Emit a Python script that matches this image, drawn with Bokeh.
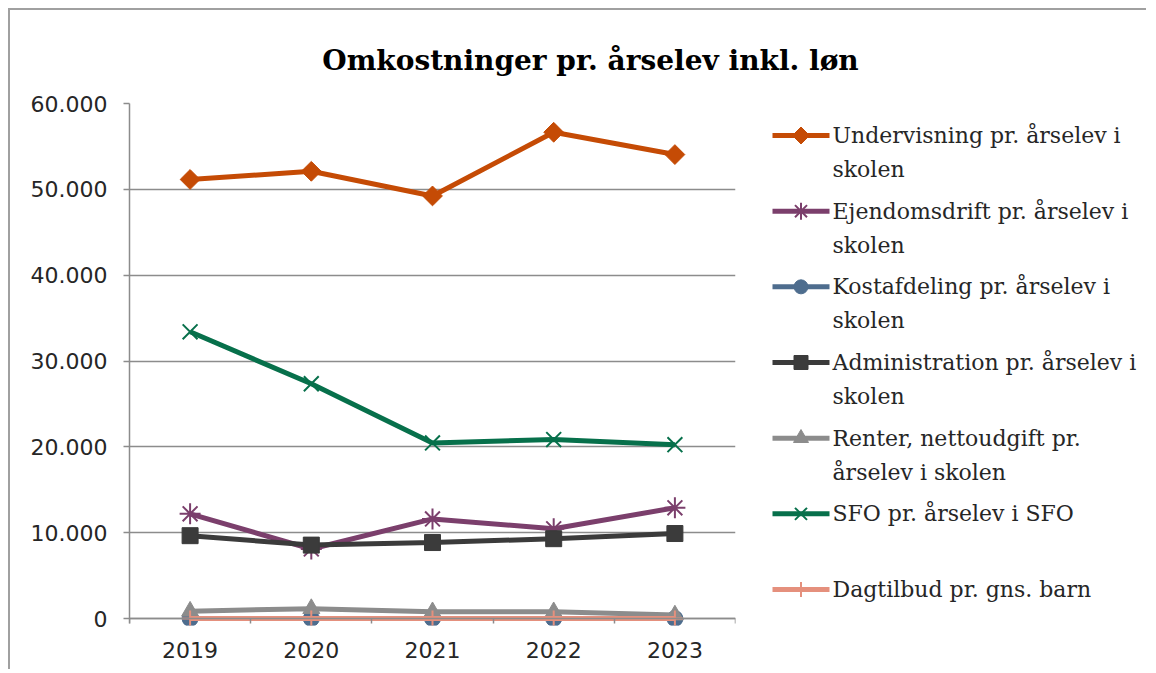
from bokeh.plotting import figure
from bokeh.models import Range1d, FixedTicker, LinearAxis, Grid
from bokeh.layouts import column, row
from bokeh.embed import file_html
from bokeh.resources import INLINE
from bokeh.core.properties import value

# ---------------- data ----------------
years = ["2019", "2020", "2021", "2022", "2023"]
undervisning = [51150, 52100, 49230, 56650, 54050]
ejendomsdrift = [12200, 8100, 11600, 10450, 12900]
kostafdeling = [0, 0, 0, 0, 0]
administration = [9650, 8550, 8850, 9300, 9900]
renter = [850, 1150, 780, 780, 400]
sfo = [33400, 27350, 20450, 20850, 20250]
dagtilbud = [0, 0, 0, 0, 0]

legend_labels = [
    ["Undervisning pr. årselev i", "skolen"],
    ["Ejendomsdrift pr. årselev i", "skolen"],
    ["Kostafdeling pr. årselev i", "skolen"],
    ["Administration pr. årselev i", "skolen"],
    ["Renter, nettoudgift pr.", "årselev i skolen"],
    ["SFO pr. årselev i SFO"],
    ["Dagtilbud pr. gns. barn"],
]
y_ticks = [0, 10000, 20000, 30000, 40000, 50000, 60000]
y_tick_labels = ["0", "10.000", "20.000", "30.000", "40.000", "50.000", "60.000"]
title_text = "Omkostninger pr. årselev inkl. løn"

series = [undervisning, ejendomsdrift, kostafdeling, administration, renter, sfo, dagtilbud]
colors = ["#c54b05", "#7b3f6c", "#4e6d8e", "#3b3b3b", "#8c8c8c", "#07704b", "#e5907d"]
markers = ["square", "asterisk", "circle", "square", "triangle", "x", "cross"]
angles = [0.785398, 0, 0, 0, 0, 0, 0]
sizes = [14, 21, 16, 16, 17, 21, 16]
leg_sizes = [12, 17, 14, 14, 15, 17, 15]
mlw = [1, 2, 1, 1, 1, 2, 2]

AX = "#8c8c8c"
TXT = "#262626"

# ---------------- main plot ----------------
n = len(years)
x_pos = [i + 0.5 for i in range(n)]
bounds = list(range(n + 1))

H = 584
TOP, BOTTOM = 18, 44

p = figure(width=750, height=H, x_range=Range1d(0, n), y_range=Range1d(-815, 60000),
           output_backend="svg", toolbar_location=None,
           x_axis_type=None, y_axis_type=None,
           min_border_left=119, min_border_right=25, min_border_top=TOP, min_border_bottom=BOTTOM)
p.outline_line_color = None
p.background_fill_color = "white"
p.border_fill_color = "white"

y_ticker = FixedTicker(ticks=y_ticks, minor_ticks=[])
yaxis = LinearAxis(ticker=y_ticker, bounds=(-600, 60000),
                   major_label_overrides=dict(zip(y_ticks, y_tick_labels)),
                   axis_line_color=AX, axis_line_width=1.5,
                   major_tick_line_color=AX, major_tick_line_width=1.5,
                   major_tick_out=6, major_tick_in=0,
                   minor_tick_out=0, minor_tick_in=0,
                   major_label_standoff=16,
                   major_label_text_font="DejaVu Sans",
                   major_label_text_font_size="22px",
                   major_label_text_color=TXT)
p.add_layout(yaxis, "left")

# axis line at value 0 with boundary ticks
x_line_ticker = FixedTicker(ticks=[], minor_ticks=bounds)
xaxis_line = LinearAxis(ticker=x_line_ticker, fixed_location=0,
                        axis_line_color=AX, axis_line_width=1.5,
                        major_tick_out=0, major_tick_in=0,
                        minor_tick_line_color=AX, minor_tick_line_width=1.5,
                        minor_tick_out=5, minor_tick_in=0,
                        major_label_text_color=None)
p.add_layout(xaxis_line, "below")

# category labels
x_ticker = FixedTicker(ticks=x_pos, minor_ticks=[])
xaxis = LinearAxis(ticker=x_ticker,
                   major_label_overrides=dict(zip(x_pos, years)),
                   axis_line_color=None,
                   major_tick_line_color=None, minor_tick_line_color=None,
                   major_tick_out=0, major_tick_in=0,
                   minor_tick_out=0, minor_tick_in=0,
                   major_label_standoff=16,
                   major_label_text_font="DejaVu Sans",
                   major_label_text_font_size="22px",
                   major_label_text_color=TXT)
p.add_layout(xaxis, "below")

p.add_layout(Grid(dimension=1, ticker=y_ticker, grid_line_color=AX, grid_line_width=1.5), "center")

for vals, c, m, a, s, lw in zip(series, colors, markers, angles, sizes, mlw):
    p.line(x_pos, vals, line_color=c, line_width=5)
    p.scatter(x_pos, vals, marker=m, size=s, angle=a, fill_color=c, line_color=c, line_width=lw)

# ---------------- legend panel (pixel coordinates) ----------------
lg = figure(width=386, height=H, x_range=Range1d(760, 1146), y_range=Range1d(85 + H - BOTTOM, 85 + TOP),
            output_backend="svg", toolbar_location=None,
            x_axis_type=None, y_axis_type=None,
            min_border_left=0, min_border_right=0, min_border_top=TOP, min_border_bottom=BOTTOM)
lg.outline_line_color = None
lg.grid.visible = False

y0, step, line_gap = 135, 75.67, 34
for i, (lab, c, m, a, s, lw) in enumerate(zip(legend_labels, colors, markers, angles, leg_sizes, mlw)):
    yy = y0 + i * step
    lg.line([772, 829], [yy, yy], line_color=c, line_width=5)
    lg.scatter([800.5], [yy], marker=m, size=s, angle=a, fill_color=c, line_color=c, line_width=lw)
    lg.text(x=[832] * len(lab), y=[yy + k * line_gap for k in range(len(lab))], text=lab,
            text_font=value("DejaVu Serif"), text_font_size="22px", text_color=TXT,
            text_align="left", text_baseline="middle")

# ---------------- title panel ----------------
tf = figure(width=1136, height=75, x_range=Range1d(10, 1146), y_range=Range1d(85, 10),
            output_backend="svg", toolbar_location=None,
            x_axis_type=None, y_axis_type=None, min_border=0)
tf.outline_line_color = None
tf.grid.visible = False
tf.text(x=[590], y=[60], text=[title_text], text_font=value("DejaVu Serif"),
        text_font_style="bold", text_font_size="28px", text_color="black",
        text_align="center", text_baseline="middle")

layout = column(tf, row(p, lg), styles={"border-left": "2px solid #a0a0a0",
                                         "border-top": "2px solid #a0a0a0",
                                         "margin-left": "8px", "margin-top": "8px"})

open("out.html", "w").write(file_html(layout, INLINE))
